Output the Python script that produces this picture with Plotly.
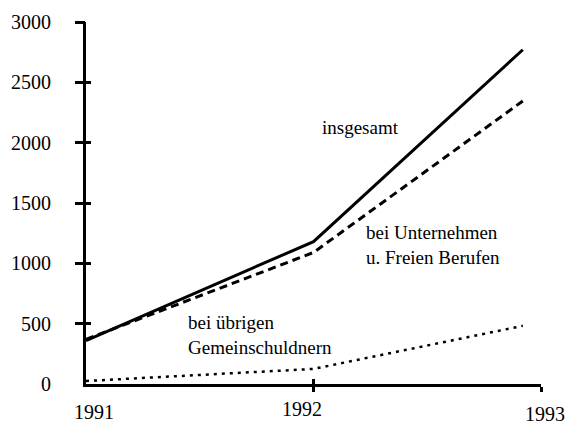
import plotly.graph_objects as go

# --- data ---
x_points = [1991, 1992, 1992.92]
insgesamt = [360, 1180, 2770]
unternehmen = [370, 1090, 2345]
uebrige = [25, 125, 482]

y_tick_vals = [0, 500, 1000, 1500, 2000, 2500, 3000]
y_tick_text = ["0", "500", "1000", "1500", "2000", "2500", "3000"]
x_tick_vals = [1991, 1992, 1993]
x_tick_text = ["1991", "1992", "1993"]

series_labels = ["insgesamt", "bei Unternehmen<br>u. Freien Berufen", "bei übrigen<br>Gemeinschuldnern"]

FONT = "Liberation Serif, Times New Roman, serif"

fig = go.Figure()
fig.add_trace(go.Scatter(x=x_points, y=insgesamt, mode="lines",
                         line=dict(color="black", width=3), cliponaxis=False,
                         showlegend=False, hoverinfo="skip"))
fig.add_trace(go.Scatter(x=x_points, y=unternehmen, mode="lines",
                         line=dict(color="black", width=3, dash="8px,5px"), cliponaxis=False,
                         showlegend=False, hoverinfo="skip"))
fig.add_trace(go.Scatter(x=x_points, y=uebrige, mode="lines",
                         line=dict(color="black", width=2.5, dash="3px,5px"), cliponaxis=False,
                         showlegend=False, hoverinfo="skip"))
# empty helper traces so the overlay axes (crossing tick marks) are drawn
fig.add_trace(go.Scatter(x=[None], y=[None], xaxis="x2", yaxis="y2", showlegend=False, hoverinfo="skip"))
fig.add_trace(go.Scatter(x=[None], y=[None], xaxis="x", yaxis="y3", showlegend=False, hoverinfo="skip"))

# annotations for series
ann_pos = [(1992.03, 2127), (1992.22, 1155), (1991.44, 405)]
for (ax, ay), txt in zip(ann_pos, series_labels):
    fig.add_annotation(x=ax, y=ay, xref="x", yref="y", text=txt, showarrow=False,
                       xanchor="left", yanchor="middle", align="left",
                       font=dict(family=FONT, size=19, color="black"))

# x tick labels (placed slightly irregularly as in the reference)
x_label_shift = [(8, -28), (-12, -25), (4, -30)]
for xv, txt, (dx, dy) in zip(x_tick_vals, x_tick_text, x_label_shift):
    fig.add_annotation(x=xv, y=0, xref="x", yref="paper", text=txt, showarrow=False,
                       xanchor="center", yanchor="middle", xshift=dx, yshift=dy,
                       font=dict(family=FONT, size=20, color="black"))

fig.update_layout(
    width=565, height=425,
    margin=dict(l=86, r=24, t=22, b=41),
    paper_bgcolor="white", plot_bgcolor="white",
    font=dict(family=FONT, size=20, color="black"),
    xaxis=dict(range=[1991, 1993], showgrid=False, zeroline=False,
               showline=True, linewidth=3, linecolor="black",
               tickvals=x_tick_vals[1:], ticks="outside", ticklen=5, tickwidth=3,
               tickcolor="black", showticklabels=False),
    xaxis2=dict(range=[1991, 1993], overlaying="x", showgrid=False, zeroline=False,
                showline=False, tickvals=x_tick_vals[1:], ticks="inside", ticklen=5,
                tickwidth=3, tickcolor="black", showticklabels=False),
    yaxis=dict(range=[0, 3000], showgrid=False, zeroline=False,
               showline=True, linewidth=3, linecolor="black",
               tickvals=y_tick_vals, ticktext=y_tick_text, ticks="",
               ticklabelstandoff=28,
               tickfont=dict(family=FONT, size=20, color="black")),
    yaxis2=dict(range=[0, 3000], overlaying="y", side="left", showgrid=False, zeroline=False,
                showline=False, tickvals=y_tick_vals[1:], ticks="outside", ticklen=10,
                tickwidth=3, tickcolor="black", showticklabels=False),
    yaxis3=dict(range=[0, 3000], overlaying="y", side="left", showgrid=False, zeroline=False,
                showline=False, tickvals=y_tick_vals[1:], ticks="inside", ticklen=5,
                tickwidth=3, tickcolor="black", showticklabels=False),
)

fig.write_html("out.html", config={"displayModeBar": False},
               post_script="document.body.style.margin='0px';document.body.style.overflow='hidden';")
